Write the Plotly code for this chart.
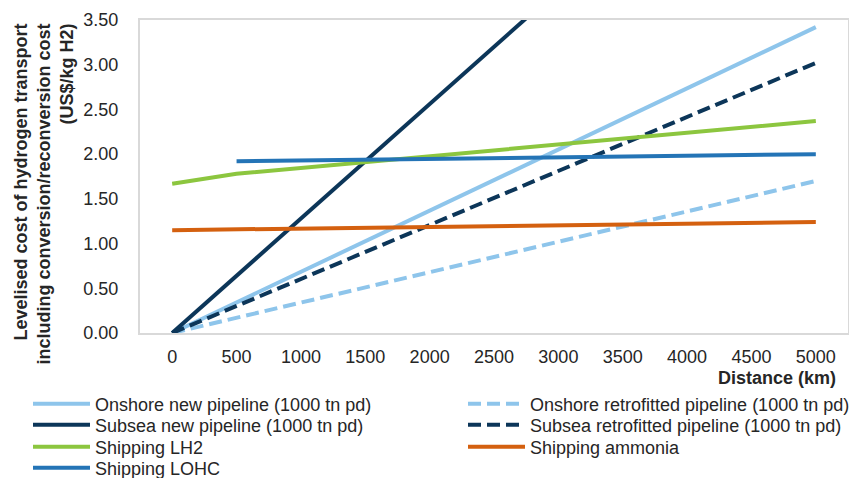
import plotly.graph_objects as go

# ---- data ----
dist_ticks = [0, 500, 1000, 1500, 2000, 2500, 3000, 3500, 4000, 4500, 5000]
y_ticks = [0, 0.5, 1.0, 1.5, 2.0, 2.5, 3.0, 3.5]

onshore_new_x = [0, 5000]
onshore_new_y = [0.0, 3.42]

onshore_retro_x = [0, 5000]
onshore_retro_y = [0.0, 1.70]

subsea_new_x = [0, 5000]
subsea_new_y = [0.0, 6.40]

subsea_retro_x = [0, 5000]
subsea_retro_y = [0.0, 3.02]

lh2_x = [0, 500, 5000]
lh2_y = [1.67, 1.78, 2.37]

ammonia_x = [0, 5000]
ammonia_y = [1.15, 1.24]

lohc_x = [500, 5000]
lohc_y = [1.92, 2.00]

FONT = "Liberation Sans, Arial, sans-serif"
TXT = "#262626"

series = [
    ("Onshore new pipeline (1000 tn pd)", onshore_new_x, onshore_new_y, "#8EC5EB", "solid", "legend"),
    ("Onshore retrofitted pipeline (1000 tn pd)", onshore_retro_x, onshore_retro_y, "#8EC5EB", "13px,6px", "legend5"),
    ("Subsea new pipeline (1000 tn pd)", subsea_new_x, subsea_new_y, "#0C3659", "solid", "legend2"),
    ("Subsea retrofitted pipeline (1000 tn pd)", subsea_retro_x, subsea_retro_y, "#0C3659", "13px,6px", "legend6"),
    ("Shipping LH2", lh2_x, lh2_y, "#8CC63F", "solid", "legend3"),
    ("Shipping ammonia", ammonia_x, ammonia_y, "#D4600F", "solid", "legend7"),
    ("Shipping LOHC", lohc_x, lohc_y, "#2474B6", "solid", "legend4"),
]

fig = go.Figure()
for name, xs, ys, col, dash, lg in series:
    fig.add_trace(go.Scatter(
        x=xs, y=ys, mode="lines", name=name,
        line=dict(color=col, width=4, dash=dash),
        legend=lg,
    ))

# plot area pixel geometry
L, R, T, B = 140, 848, 20, 333
W, H = 849, 478
def px_x(p):
    return (p - L) / (R - L)
def px_y(p):
    return (B - p) / (B - T)

def legend_at(xpx, ypx):
    return dict(
        x=px_x(xpx), y=px_y(ypx), xanchor="left", yanchor="middle",
        font=dict(family=FONT, size=18, color=TXT),
        bgcolor="rgba(0,0,0,0)", borderwidth=0, itemwidth=57,
        orientation="v",
    )

rows = [404, 425, 447, 468]
fig.update_layout(
    width=W, height=H,
    margin=dict(l=L, r=W - R, t=T, b=H - B, pad=0, autoexpand=False),
    paper_bgcolor="white", plot_bgcolor="white",
    showlegend=True,
    legend=legend_at(28, rows[0]),
    legend2=legend_at(28, rows[1]),
    legend3=legend_at(28, rows[2]),
    legend4=legend_at(28, rows[3]),
    legend5=legend_at(463, rows[0]),
    legend6=legend_at(463, rows[1]),
    legend7=legend_at(463, rows[2]),
    xaxis=dict(
        range=[-250, 5250], tickmode="array", tickvals=dist_ticks,
        ticktext=[str(v) for v in dist_ticks],
        showgrid=False, zeroline=False,
        showline=True, mirror=True, linecolor="#D9D9D9", linewidth=2,
        ticks="", ticklabelstandoff=6,
        tickfont=dict(family=FONT, size=18, color=TXT),
    ),
    yaxis=dict(
        range=[0, 3.5], tickmode="array", tickvals=y_ticks,
        ticktext=[f"{v:.2f}" for v in y_ticks],
        showgrid=False, zeroline=False,
        showline=True, mirror=True, linecolor="#D9D9D9", linewidth=2,
        ticks="", ticklabelstandoff=16,
        tickfont=dict(family=FONT, size=18, color=TXT),
    ),
    annotations=[
        dict(
            text="Levelised cost of hydrogen transport<br>including conversion/reconversion cost<br>(US$/kg H2)",
            xref="paper", yref="paper", x=px_x(44), y=px_y(22),
            xanchor="center", yanchor="top", textangle=-90, align="right",
            showarrow=False,
            font=dict(family=FONT, size=18, color=TXT, weight="bold"),
        ),
        dict(
            text="Distance (km)",
            xref="paper", yref="paper", x=px_x(838), y=px_y(378),
            xanchor="right", yanchor="middle", showarrow=False,
            font=dict(family=FONT, size=18, color=TXT, weight="bold"),
        ),
    ],
)

fig.write_html(
    "out.html",
    config={"displayModeBar": False},
    post_script="document.body.style.margin='0px';",
)
